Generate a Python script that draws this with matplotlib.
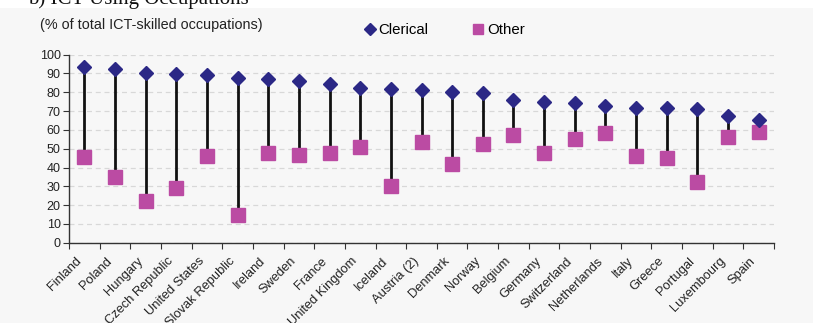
import matplotlib
matplotlib.use("Agg")
import matplotlib.pyplot as plt
from matplotlib.transforms import ScaledTranslation
import numpy as np

countries = ["Finland", "Poland", "Hungary", "Czech Republic", "United States",
             "Slovak Republic", "Ireland", "Sweden", "France", "United Kingdom",
             "Iceland", "Austria (2)", "Denmark", "Norway", "Belgium", "Germany",
             "Switzerland", "Netherlands", "Italy", "Greece", "Portugal",
             "Luxembourg", "Spain"]
clerical = [93.3, 92.6, 90.1, 89.5, 89.0, 87.8, 86.9, 85.8, 84.6, 82.4, 81.9,
            81.4, 80.3, 79.6, 75.9, 74.6, 74.1, 72.9, 71.5, 71.5, 70.9, 67.2, 65.2]
other = [45.4, 34.8, 22.3, 29.3, 46.1, 14.9, 47.5, 46.6, 47.7, 50.9, 30.3,
         53.5, 41.7, 52.3, 57.3, 47.9, 55.3, 58.3, 46.1, 44.9, 32.3, 56.0, 59.0]
yticks = list(range(0, 101, 10))

plt.rcParams['font.family'] = ['Liberation Sans', 'DejaVu Sans']

W, H = 813, 323
fig = plt.figure(figsize=(W / 100, H / 100), dpi=100)
fig.patch.set_facecolor('#f7f7f7')
# white strip at top with the title cut off as in the reference
fig.add_artist(plt.Rectangle((0, 1 - 8 / H), 1, 8 / H, transform=fig.transFigure,
                             facecolor='white', edgecolor='none', zorder=0))
fig.text(28 / W, 1 - 4 / H, "b) ICT Using Occupations", family='Liberation Serif',
         fontsize=15, va='baseline', ha='left', color='#111111')

ax = fig.add_axes([69 / W, (H - 242.7) / H, (774 - 69) / W, (242.7 - 54.7) / H])
ax.set_facecolor('#f7f7f7')
x = np.arange(len(countries))
ax.vlines(x, other, clerical, color='#111111', linewidth=2.0, zorder=2)
ax.plot(x, clerical, linestyle='none', marker='D', markersize=7.4,
        color='#2b2886', zorder=4, label='Clerical')
ax.plot(x, other, linestyle='none', marker='s', markersize=9.6,
        color='#bb4ba3', zorder=3, label='Other')

ax.set_xlim(-0.5, len(countries) - 0.5)
ax.set_ylim(0, 100)
ax.set_yticks(yticks)
ax.set_yticklabels([str(v) for v in yticks], fontsize=9, color='#222222')
ax.yaxis.grid(True, linestyle=(0, (4, 3)), color='#d8d8d8', linewidth=0.9)
ax.set_axisbelow(True)

ax.set_xticks(np.arange(len(countries) + 1) - 0.5)
ax.set_xticklabels([])
ax.set_xticks(x, minor=True)
ax.set_xticklabels(countries, minor=True, rotation=45, ha='right', va='top',
                   rotation_mode='anchor', fontsize=9.3, color='#222222')
ax.tick_params(axis='x', which='minor', length=0, pad=9)
ax.tick_params(axis='x', which='major', length=4, direction='out', color='#333333')
ax.tick_params(axis='y', length=4, direction='out', color='#333333', pad=2)
shift = ScaledTranslation(-9 / 100, 0, fig.dpi_scale_trans)
for lab in ax.get_xticklabels(minor=True):
    lab.set_transform(lab.get_transform() + shift)

for s in ['top', 'right']:
    ax.spines[s].set_visible(False)
for s in ['left', 'bottom']:
    ax.spines[s].set_color('#333333')
    ax.spines[s].set_linewidth(1.0)

fig.text(40 / W, 1 - 25 / H, "(% of total ICT-skilled occupations)", fontsize=10.4,
         va='center', ha='left', color='#222222')

leg = fig.legend(loc='center', bbox_to_anchor=(445 / W, 1 - 30 / H), ncol=2,
                 frameon=False, fontsize=10.8, handlelength=0.6, handletextpad=0.3,
                 columnspacing=3.0, markerscale=0.8)

fig.savefig("out.png", dpi=100, facecolor=fig.get_facecolor())
